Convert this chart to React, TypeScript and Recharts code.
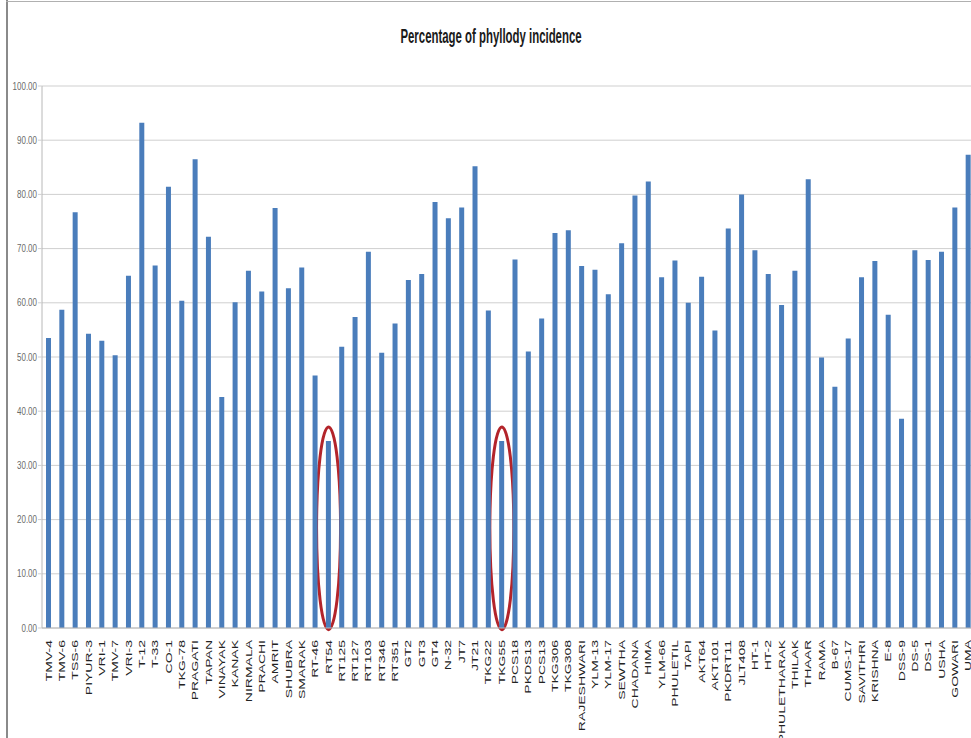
import { Bar, BarChart, CartesianGrid, ReferenceArea, XAxis, YAxis } from "recharts";

// sesame genotypes screened for phyllody
const GENOTYPES = [
  "TMV-4", "TMV-6", "TSS-6", "PIYUR-3", "VRI-1", "TMV-7", "VRI-3", "T-12", "T-33", "CO-1",
  "TKG-78", "PRAGATI", "TAPAN", "VINAYAK", "KANAK", "NIRMALA", "PRACHI", "AMRIT", "SHUBRA", "SMARAK",
  "RT-46", "RT54", "RT125", "RT127", "RT103", "RT346", "RT351", "GT2", "GT3", "GT4",
  "N-32", "JT7", "JT21", "TKG22", "TKG55", "PCS18", "PKDS13", "PCS13", "TKG306", "TKG308",
  "RAJESHWARI", "YLM-13", "YLM-17", "SEWTHA", "CHADANA", "HIMA", "YLM-66", "PHULETIL", "TAPI", "AKT64",
  "AKT101", "PKDRT11", "JLT408", "HT-1", "HT-2", "PHULETHARAK", "THILAK", "THAAR", "RAMA", "B-67",
  "CUMS-17", "SAVITHRI", "KRISHNA", "E-8", "DSS-9", "DS-5", "DS-1", "USHA", "GOWARI", "UMA",
];

// percentage of plants showing phyllody
const INCIDENCE = [
  53.5, 58.7, 76.7, 54.3, 53.0, 50.3, 65.0, 93.2, 66.9, 81.4,
  60.4, 86.5, 72.2, 42.6, 60.1, 65.9, 62.1, 77.5, 62.7, 66.5,
  46.6, 34.5, 51.9, 57.4, 69.4, 50.8, 56.2, 64.2, 65.3, 78.6,
  75.6, 77.6, 85.2, 58.6, 34.5, 68.0, 51.0, 57.1, 72.9, 73.4,
  66.8, 66.1, 61.6, 71.0, 79.8, 82.4, 64.7, 67.8, 60.0, 64.8,
  54.9, 73.7, 80.0, 69.7, 65.3, 59.6, 65.9, 82.8, 49.9, 44.5,
  53.4, 64.7, 67.7, 57.8, 38.6, 69.7, 67.9, 69.4, 77.6, 87.3,
];

const Y_TICKS = [0, 10, 20, 30, 40, 50, 60, 70, 80, 90, 100];

// resistant lines picked out with a ring
const HIGHLIGHTED = ["RT54", "TKG55"];
const RING_SPAN = [-0.3, 37.1];

const data = GENOTYPES.map((name, i) => ({ name, incidence: INCIDENCE[i] }));

const FONT = "'Liberation Sans', Arial, sans-serif";

const XTick = ({ x, y, payload }: any) => (
  <g transform={`translate(${x},${y})`}>
    <text
      transform="rotate(-90) scale(1,0.6)"
      x={-4}
      dy="0.35em"
      textAnchor="end"
      fontSize={14}
      fontFamily={FONT}
      fill="#222"
    >
      {payload.value}
    </text>
  </g>
);

const YTick = ({ x, y, payload }: any) => (
  <g transform={`translate(${x},${y}) scale(0.8,1)`}>
    <text textAnchor="end" dy="0.35em" fontSize={10} fontFamily={FONT} fill="#6a6a6a">
      {Number(payload.value).toFixed(2)}
    </text>
  </g>
);

const Ring = ({ x, y, width, height }: any) => (
  <ellipse
    cx={x + width / 2}
    cy={y + height / 2}
    rx={12}
    ry={height / 2}
    fill="none"
    stroke="#b3242a"
    strokeWidth={3}
  />
);

export default function App() {
  return (
    <div
      style={{
        position: "fixed",
        left: 0,
        top: 0,
        width: 971,
        height: 738,
        overflow: "hidden",
        background: "#fff",
      }}
    >
      <div style={{ position: "absolute", left: 6, top: 0, width: 2, height: 738, background: "#8a8a8a" }} />
      <div style={{ position: "absolute", left: 6, top: 1, width: 965, height: 1, background: "#b0b0b0" }} />
      <div
        style={{
          position: "absolute",
          left: 491,
          top: 25,
          transform: "translateX(-50%) scaleX(0.57)",
          whiteSpace: "nowrap",
          fontFamily: FONT,
          fontWeight: "bold",
          fontSize: 20,
          color: "#1a1a1a",
        }}
      >
        Percentage of phyllody incidence
      </div>
      <BarChart
        width={985}
        height={738}
        data={data}
        margin={{ top: 86, right: 10, left: 0, bottom: 0 }}
        barCategoryGap={0}
      >
        <CartesianGrid vertical={false} stroke="#cfcfcf" />
        <XAxis
          dataKey="name"
          interval={0}
          height={110}
          tick={<XTick />}
          tickLine={false}
          axisLine={{ stroke: "#b8b8b8" }}
        />
        <YAxis
          width={42}
          domain={[0, 100]}
          ticks={Y_TICKS}
          tick={<YTick />}
          tickSize={4}
          tickMargin={1}
          tickLine={{ stroke: "#cfcfcf" }}
          axisLine={{ stroke: "#b8b8b8" }}
        />
        <Bar dataKey="incidence" fill="#4a7dbb" barSize={5} isAnimationActive={false} />
        {HIGHLIGHTED.map((g) => (
          <ReferenceArea
            key={g}
            x1={g}
            x2={g}
            y1={RING_SPAN[0]}
            y2={RING_SPAN[1]}
            ifOverflow="visible"
            shape={<Ring />}
          />
        ))}
      </BarChart>
    </div>
  );
}
